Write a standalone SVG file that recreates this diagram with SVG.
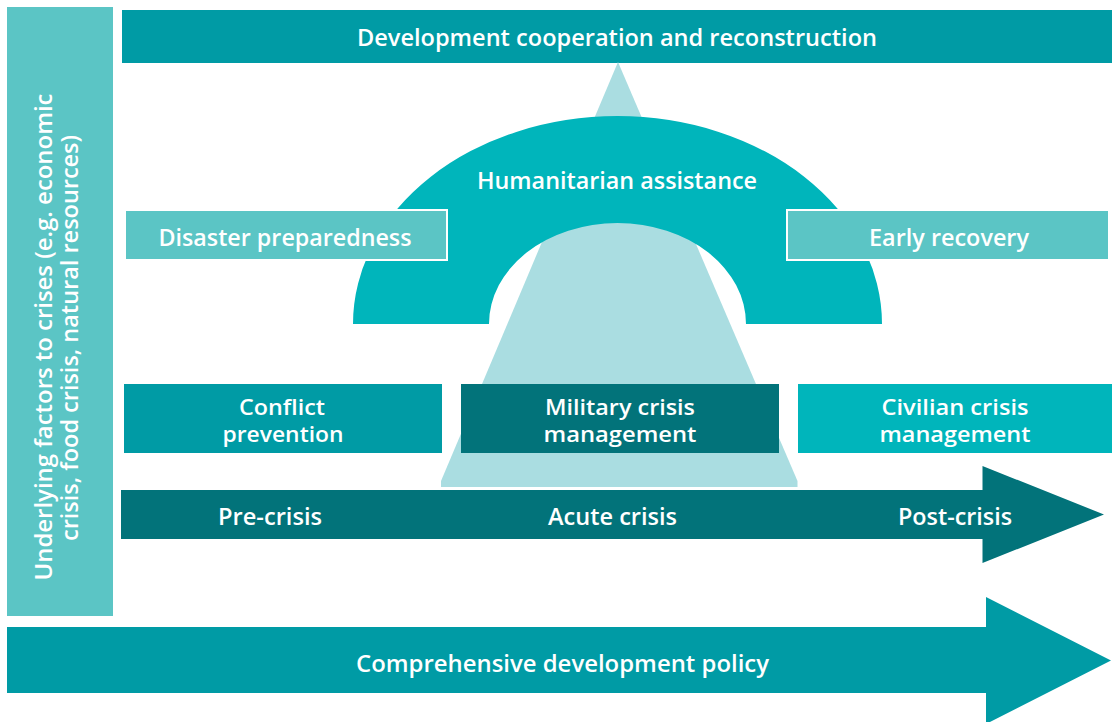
<svg xmlns="http://www.w3.org/2000/svg" width="1114" height="722" viewBox="0 0 1114 722">
  <style>
    .t { font-family: "Open Sans", "Noto Sans", "Liberation Sans", sans-serif; font-size: 23px; font-weight: 600; fill: #ffffff; text-anchor: middle; }
    .tv { font-size: 24px; }
    .two { font-size: 21px; }
    .mid { fill: #009ba5; }
    .dark { fill: #02737a; }
    .bright { fill: #00b5bb; }
    .light { fill: #5bc5c5; }
    .pale { fill: #aadde1; }
    .framed { stroke: #ffffff; stroke-width: 2; }
  </style>
  <rect width="1114" height="722" fill="#ffffff"/>

  <g id="underlying-factors">
    <rect class="light" x="7" y="7" width="106" height="609"/>
    <text class="t tv" transform="translate(52,337) rotate(-90)" x="0" y="0" textLength="487" lengthAdjust="spacingAndGlyphs">Underlying factors to crises (e.g. economic</text>
    <text class="t tv" transform="translate(78,338) rotate(-90)" x="0" y="0" textLength="406" lengthAdjust="spacingAndGlyphs">crisis, food crisis, natural resources)</text>
  </g>

  <g id="development-cooperation">
    <rect class="mid" x="122" y="10" width="990" height="53"/>
    <text class="t" x="617" y="45.5" textLength="520" lengthAdjust="spacingAndGlyphs">Development cooperation and reconstruction</text>
  </g>

  <g id="crisis-triangle">
    <polygon class="pale" points="618,62 797.5,481 797.5,487 441,487 441,481"/>
  </g>

  <g id="humanitarian-assistance">
    <path class="bright" d="M353 324 A264.5 208 0 0 1 882 324 L746 324 A128.5 101 0 0 0 489 324 Z"/>
    <text class="t" x="617" y="188.5" textLength="280" lengthAdjust="spacingAndGlyphs">Humanitarian assistance</text>
  </g>

  <g id="disaster-preparedness">
    <rect class="light framed" x="125" y="210" width="322" height="50"/>
    <text class="t" x="285" y="245.5" textLength="253" lengthAdjust="spacingAndGlyphs">Disaster preparedness</text>
  </g>

  <g id="early-recovery">
    <rect class="light framed" x="787" y="210" width="322" height="50"/>
    <text class="t" x="949" y="245.5" textLength="160" lengthAdjust="spacingAndGlyphs">Early recovery</text>
  </g>

  <g id="conflict-prevention">
    <rect class="mid" x="124" y="384" width="318" height="69"/>
    <text class="t two" x="282" y="415" textLength="86" lengthAdjust="spacingAndGlyphs">Conflict</text>
    <text class="t two" x="283" y="442" textLength="121" lengthAdjust="spacingAndGlyphs">prevention</text>
  </g>

  <g id="military-crisis-management">
    <rect class="dark" x="461" y="384" width="318" height="69"/>
    <text class="t two" x="620" y="415" textLength="150" lengthAdjust="spacingAndGlyphs">Military crisis</text>
    <text class="t two" x="620" y="442" textLength="153" lengthAdjust="spacingAndGlyphs">management</text>
  </g>

  <g id="civilian-crisis-management">
    <rect class="bright" x="798" y="384" width="314" height="69"/>
    <text class="t two" x="955" y="415" textLength="147" lengthAdjust="spacingAndGlyphs">Civilian crisis</text>
    <text class="t two" x="955" y="442" textLength="151" lengthAdjust="spacingAndGlyphs">management</text>
  </g>

  <g id="crisis-timeline">
    <polygon class="dark" points="121,490 982.5,490 982.5,466 1104,514.5 982.5,563 982.5,539 121,539"/>
    <text class="t" x="270" y="524.5" textLength="104" lengthAdjust="spacingAndGlyphs">Pre-crisis</text>
    <text class="t" x="612.5" y="524.5" textLength="129" lengthAdjust="spacingAndGlyphs">Acute crisis</text>
    <text class="t" x="955" y="524.5" textLength="114" lengthAdjust="spacingAndGlyphs">Post-crisis</text>
  </g>

  <g id="comprehensive-development-policy">
    <polygon class="mid" points="7,627 986,627 986,597 1111,660.5 986,724 986,693 7,693"/>
    <text class="t" x="562.5" y="671.5" textLength="413" lengthAdjust="spacingAndGlyphs">Comprehensive development policy</text>
  </g>

  <g id="connectors"></g>
</svg>
